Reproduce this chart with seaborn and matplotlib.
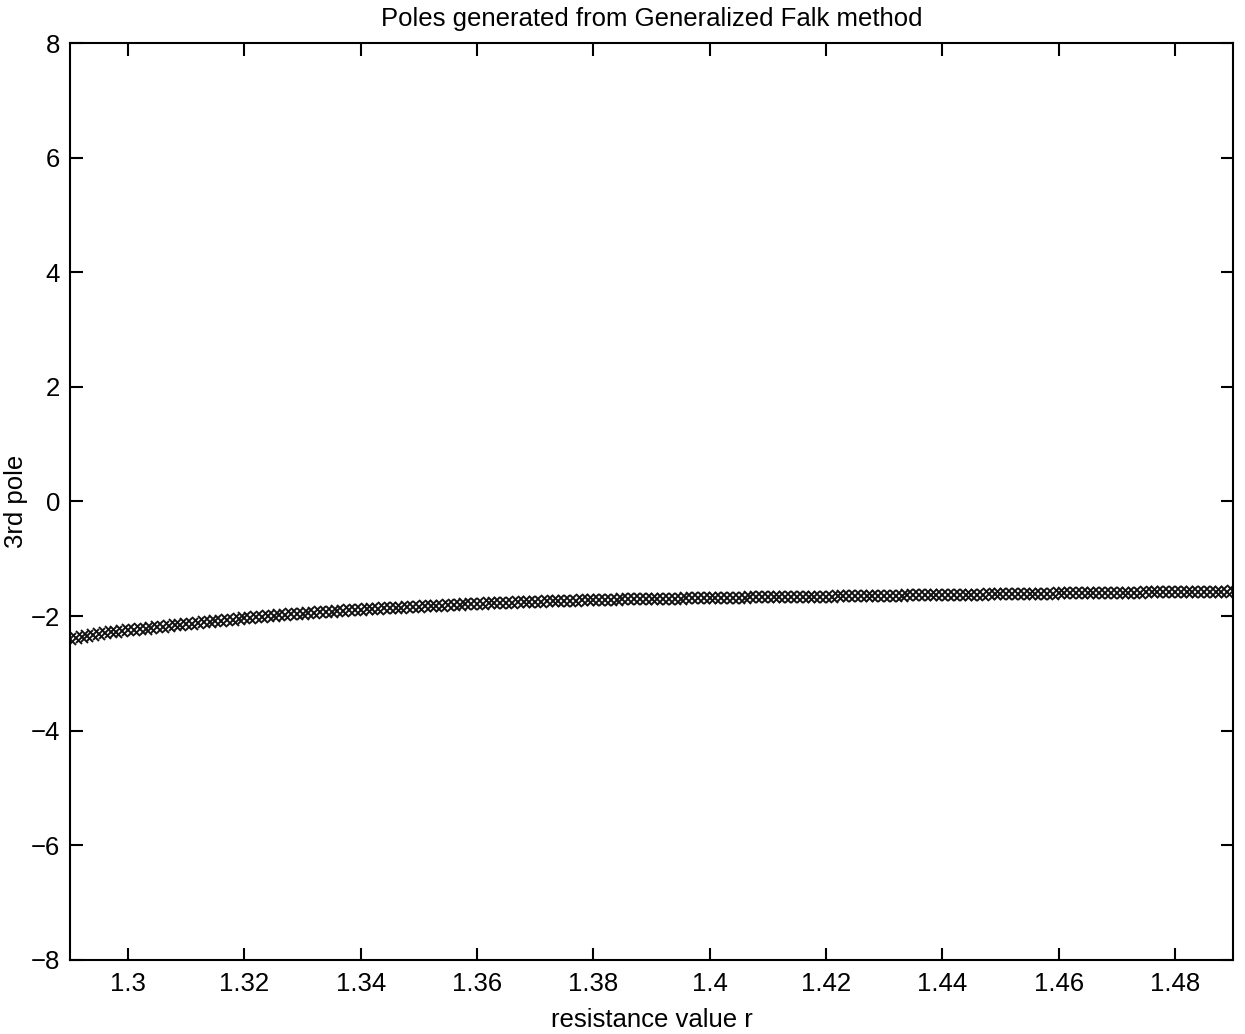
import numpy as np
import matplotlib
matplotlib.use("Agg")
import matplotlib.pyplot as plt
import seaborn as sns
from matplotlib.ticker import FuncFormatter

# resistance values r (sampling grid 1.29 .. 1.49, step 0.001)
r_values = np.round(np.linspace(1.29, 1.49, 201), 3)

# 3rd pole values
pole3 = [
    -2.400, -2.380, -2.361, -2.343, -2.326, -2.310, -2.297, -2.284, -2.272, -2.261,
    -2.250, -2.239, -2.228, -2.217, -2.206, -2.195, -2.184, -2.173, -2.162, -2.151,
    -2.140, -2.130, -2.120, -2.110, -2.100, -2.090, -2.080, -2.070, -2.060, -2.050,
    -2.040, -2.031, -2.022, -2.013, -2.004, -1.995, -1.987, -1.979, -1.971, -1.963,
    -1.955, -1.948, -1.941, -1.934, -1.927, -1.920, -1.914, -1.908, -1.902, -1.896,
    -1.890, -1.884, -1.878, -1.872, -1.866, -1.860, -1.855, -1.850, -1.845, -1.840,
    -1.835, -1.830, -1.825, -1.820, -1.815, -1.810, -1.805, -1.800, -1.795, -1.790,
    -1.785,
    -1.782, -1.778, -1.775, -1.771, -1.768, -1.764, -1.761, -1.757, -1.754, -1.750,
    -1.747, -1.744, -1.741, -1.738, -1.735, -1.732, -1.729, -1.726, -1.723, -1.720,
    -1.718, -1.716, -1.714, -1.712, -1.710, -1.708, -1.706, -1.704, -1.702, -1.700,
    -1.699, -1.697, -1.696, -1.694, -1.693, -1.691, -1.690, -1.688, -1.687, -1.685,
    -1.684, -1.682, -1.681, -1.679, -1.678, -1.676, -1.675, -1.673, -1.672, -1.670,
    -1.669, -1.668, -1.667, -1.666, -1.665, -1.664, -1.663, -1.662, -1.661, -1.660,
    -1.659, -1.657, -1.656, -1.654, -1.653, -1.651, -1.650, -1.648, -1.647, -1.645,
    -1.644, -1.642, -1.641, -1.639, -1.638, -1.636, -1.635, -1.633, -1.632, -1.630,
    -1.629, -1.628, -1.627, -1.626, -1.625, -1.624, -1.623, -1.622, -1.621, -1.620,
    -1.619, -1.617, -1.616, -1.614, -1.613, -1.611, -1.610, -1.608, -1.607, -1.605,
    -1.604, -1.603, -1.602, -1.601, -1.600, -1.599, -1.598, -1.597, -1.596, -1.595,
    -1.594, -1.592, -1.591, -1.589, -1.588, -1.586, -1.585, -1.583, -1.582, -1.580,
    -1.579, -1.578, -1.577, -1.576, -1.575, -1.574, -1.573, -1.572, -1.571, -1.570,
]

x_ticks = [1.30, 1.32, 1.34, 1.36, 1.38, 1.40, 1.42, 1.44, 1.46, 1.48]
y_ticks = [-8, -6, -4, -2, 0, 2, 4, 6, 8]

title_text = "Poles generated from Generalized Falk method"
x_label = "resistance value r"
y_label = "3rd pole"

sns.set_theme(style="white")
plt.rcParams['font.family'] = ['Liberation Sans', 'DejaVu Sans']
plt.rcParams['axes.unicode_minus'] = True

fig = plt.figure(figsize=(12.45, 10.34), dpi=100)
ax = fig.add_axes([0.0562, 0.0716, 0.9342, 0.8868])

sns.lineplot(x=r_values, y=pole3, ax=ax, color="black", marker="x",
             linestyle="none", markersize=9, markeredgewidth=1.4,
             markeredgecolor="#111111", estimator=None, sort=False)

ax.set_xlim(1.29, 1.49)
ax.set_ylim(-8, 8)
ax.set_xticks(x_ticks)
ax.set_yticks(y_ticks)
ax.xaxis.set_major_formatter(FuncFormatter(lambda v, p: f"{v:g}"))
ax.yaxis.set_major_formatter(FuncFormatter(lambda v, p: f"{int(v)}".replace("-", "\u2212")))

for sp in ax.spines.values():
    sp.set_visible(True)
    sp.set_color("black")
    sp.set_linewidth(1.5)

ax.tick_params(axis="both", which="major", direction="in", length=9, width=1.5,
               labelsize=18.5, colors="black", top=True, right=True,
               bottom=True, left=True, pad=7)
ax.tick_params(axis="x", pad=9)

ax.set_title(title_text, fontsize=18.5, pad=12, color="black")
ax.set_xlabel(x_label, fontsize=18.5, labelpad=8, color="black")
ax.set_ylabel(y_label, fontsize=18.5, labelpad=2, color="black")

fig.savefig("out.png", dpi=100, facecolor="white")
